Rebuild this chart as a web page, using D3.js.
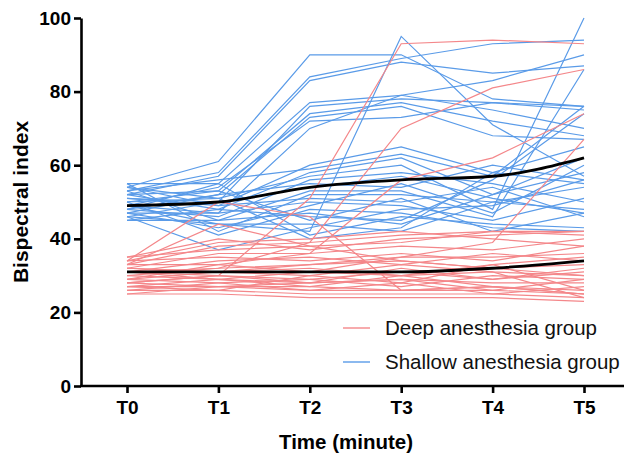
<!DOCTYPE html>
<html><head><meta charset="utf-8">
<script src="https://cdn.jsdelivr.net/npm/d3@7/dist/d3.min.js"></script>
<style>body{margin:0;background:#fff}svg{display:block}</style>
</head><body><svg id="c" width="624" height="455"></svg>
<script>
const timePoints = ["T0","T1","T2","T3","T4","T5"];
const yTicks = [0,20,40,60,80,100];
const deepGroup = [
  [25,25,24,24,24,23],[26,26,25,25,25,24],[27,27,26,26,26,25],[28,27,27,26,27,26],
  [29,28,26,28,25,27],[27,29,28,29,28,28],[30,29,27,30,27,25],[28,30,29,27,30,29],
  [31,30,28,32,29,31],[29,31,30,33,31,30],[32,31,32,30,33,35],[30,32,33,34,32,33],
  [33,33,31,35,35,36],[31,34,35,33,36,34],[34,35,34,36,34,38],[32,36,36,38,37,40],
  [35,37,38,39,42,41],[33,38,39,41,42,42],[34,39,40,42,40,38],[35,40,37,40,41,42],
  [34,50,46,26,27,25],[33,44,38,34,32,30],[28,30,51,93,94,93],[31,32,39,70,81,86],
  [29,33,36,56,62,74],[32,31,33,35,39,67],[26,28,29,31,29,32],[27,26,30,28,33,26],
  [25,27,28,29,26,29],[31,29,31,30,31,24]
];
const shallowGroup = [
  [54,61,90,90,78,76],[53,58,84,89,93,94],[52,57,83,88,85,87],[55,55,77,79,75,70],
  [51,50,76,78,77,76],[50,53,74,77,72,68],[48,52,73,76,68,67],[49,54,72,73,77,75],
  [47,47,70,79,83,90],[46,44,42,95,71,57],[54,49,60,65,58,55],[53,56,59,63,57,76],
  [52,48,58,62,52,58],[50,51,57,60,48,100],[48,46,56,58,55,50],[47,52,55,54,60,56],
  [46,50,54,57,51,47],[45,45,53,53,46,86],[55,42,52,52,50,48],[51,49,51,50,54,46],
  [49,47,50,49,45,51],[47,43,49,55,47,60],[50,41,48,47,43,42],[46,37,43,48,49,56],
  [53,45,47,44,52,62],[45,48,46,45,56,74],[52,53,45,51,42,47],[48,55,41,46,44,43],
  [54,51,40,43,58,65],[49,44,44,42,50,54]
];
const deepMean = [31,31,31,31,32,34];
const shallowMean = [49,50,54,56,57,62];
const legendLabels = ["Deep anesthesia group","Shallow anesthesia group"];
const colors = {deep:"#F4878A", shallow:"#5A9BE8"};
const FONT = "Liberation Sans, Arial, sans-serif";

const svg = d3.select("#c");
const x = d3.scalePoint().domain(timePoints).range([127,584]);
const y = d3.scaleLinear().domain([0,100]).range([386,18]);
const line = d3.line().x((d,i)=>x(timePoints[i])).y(d=>y(d));
const meanLine = d3.line().x((d,i)=>x(timePoints[i])).y(d=>y(d)).curve(d3.curveMonotoneX);

svg.append("g").selectAll("path").data(shallowGroup).join("path")
  .attr("d", line).attr("fill","none").attr("stroke",colors.shallow).attr("stroke-width",1.2);
svg.append("g").selectAll("path").data(deepGroup).join("path")
  .attr("d", line).attr("fill","none").attr("stroke",colors.deep).attr("stroke-width",1.2);
svg.append("g").selectAll("path").data([shallowMean, deepMean]).join("path")
  .attr("d", meanLine).attr("fill","none").attr("stroke","#000").attr("stroke-width",2.8);

// Y axis
const ya = svg.append("g").attr("transform","translate(81,0)")
  .call(d3.axisLeft(y).tickValues(yTicks).tickSize(7).tickSizeOuter(0).tickPadding(3));
ya.select(".domain").attr("stroke-width",2.6);
ya.selectAll(".tick line").attr("stroke-width",2.6);
ya.selectAll(".tick text").attr("font-family",FONT)
  .attr("font-weight","bold").attr("font-size",19).attr("fill","#000");

// X axis
const xa = svg.append("g").attr("transform","translate(0,386)")
  .call(d3.axisBottom(x).tickSize(7).tickSizeOuter(0).tickPadding(8));
xa.select(".domain").remove();
xa.append("line").attr("x1",80).attr("x2",624).attr("y1",0).attr("y2",0)
  .attr("stroke","#000").attr("stroke-width",2.6);
xa.selectAll(".tick line").attr("stroke-width",2.6);
xa.selectAll(".tick text").attr("font-family",FONT)
  .attr("font-weight","bold").attr("font-size",19).attr("fill","#000");

// Titles
svg.append("text").attr("x",346).attr("y",449).attr("text-anchor","middle")
  .attr("font-family",FONT).attr("font-weight","bold")
  .attr("font-size",20.5).text("Time (minute)");
svg.append("text").attr("transform","translate(28,202) rotate(-90)").attr("text-anchor","middle")
  .attr("font-family",FONT).attr("font-weight","bold")
  .attr("font-size",21).text("Bispectral index");

// Legend
const leg = svg.append("g");
[colors.deep, colors.shallow].forEach((c,i)=>{
  const yy = 328 + i*34;
  leg.append("line").attr("x1",343).attr("x2",370).attr("y1",yy).attr("y2",yy)
    .attr("stroke",c).attr("stroke-width",1.4);
  leg.append("text").attr("x",385).attr("y",yy+7)
    .attr("font-family",FONT).attr("font-size",20.5)
    .attr("fill","#111").text(legendLabels[i]);
});
</script></body></html>
